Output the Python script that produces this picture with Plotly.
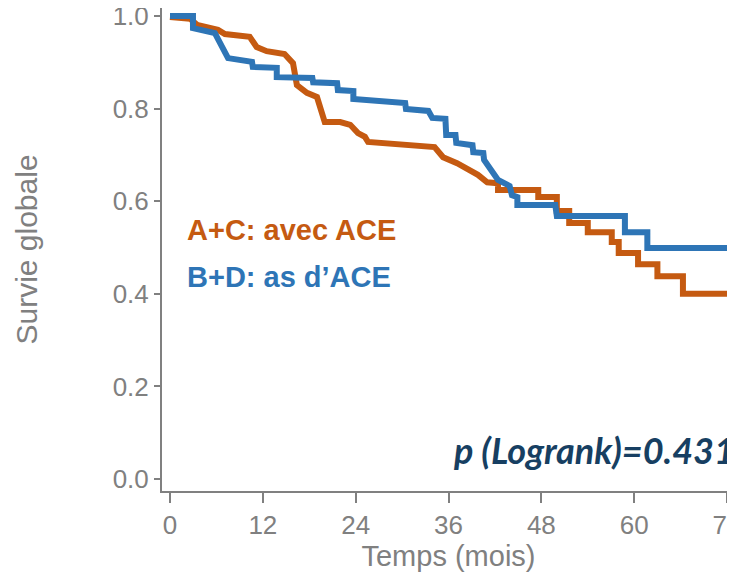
import plotly.graph_objects as go

# Kaplan-Meier curves (months, survival)
ac_months = [0, 2.6, 3.5, 6.2, 7.1, 10.3, 11.2, 12.5, 14.8, 15.9, 16.4, 17.7, 19.0, 20.0, 22.0,
             23.3, 24.3, 25.2, 25.6, 34.2, 35.3, 37.1, 39.8, 41.0, 42.4, 42.4, 47.6, 47.6,
             50.0, 50.0, 51.6, 51.6, 54.0, 54.0, 57.1, 57.1, 58.0, 58.0, 60.5, 60.5, 63.0, 63.0,
             66.3, 66.3, 72.0]
ac_surv = [0.998, 0.994, 0.981, 0.970, 0.961, 0.955, 0.933, 0.924, 0.918, 0.898, 0.851, 0.834,
           0.825, 0.771, 0.771, 0.765, 0.747, 0.739, 0.728, 0.717, 0.695, 0.682, 0.657, 0.641,
           0.639, 0.624, 0.624, 0.609, 0.609, 0.579, 0.579, 0.553, 0.553, 0.533, 0.533, 0.512,
           0.512, 0.488, 0.488, 0.464, 0.464, 0.438, 0.438, 0.400, 0.400]

bd_months = [0, 2.97, 2.97, 5.8, 7.5, 10.6, 10.7, 13.8, 13.8, 18.4, 18.5, 21.6, 21.7, 23.7, 23.7,
             30.4, 30.5, 33.4, 33.9, 35.6, 35.7, 36.9, 37.0, 39.1, 39.2, 40.5, 40.6, 41.6, 42.4,
             43.9, 44.2, 44.9, 44.9, 49.8, 50.0, 58.8, 58.8, 61.7, 61.7, 72.4]
bd_surv = [1.0, 1.0, 0.974, 0.963, 0.909, 0.901, 0.890, 0.888, 0.868, 0.866, 0.857, 0.855, 0.840,
           0.838, 0.821, 0.812, 0.799, 0.795, 0.780, 0.778, 0.743, 0.743, 0.726, 0.721, 0.706,
           0.704, 0.689, 0.667, 0.646, 0.633, 0.613, 0.609, 0.592, 0.592, 0.568, 0.568, 0.533,
           0.533, 0.499, 0.499]

x_ticks = [0, 12, 24, 36, 48, 60, 72]
y_ticks = [0.0, 0.2, 0.4, 0.6, 0.8, 1.0]
y_tick_labels = ["0.0", "0.2", "0.4", "0.6", "0.8", "1.0"]

ORANGE = "#C55A11"
BLUE = "#2E75B6"
GRAY = "#808080"

fig = go.Figure()
fig.add_trace(go.Scatter(x=ac_months, y=ac_surv, mode="lines", name="A+C: avec ACE",
                         line=dict(color=ORANGE, width=6), showlegend=False))
fig.add_trace(go.Scatter(x=bd_months, y=bd_surv, mode="lines", name="B+D: as d\u2019ACE",
                         line=dict(color=BLUE, width=6), showlegend=False))

fig.add_annotation(x=1.9, y=0.538, xref="x", yref="y", xanchor="left", yanchor="middle",
                   text="<b>A+C: avec ACE</b>", showarrow=False,
                   font=dict(family="Arial, Liberation Sans", size=29, color=ORANGE))
fig.add_annotation(x=1.9, y=0.436, xref="x", yref="y", xanchor="left", yanchor="middle",
                   text="<b>B+D: as d\u2019ACE</b>", showarrow=False,
                   font=dict(family="Arial, Liberation Sans", size=29, color=BLUE))
fig.add_annotation(x=1.0, y=0.063, xref="paper", yref="y", xanchor="right", yanchor="middle",
                   xshift=2, text="<b><i>p (Logrank)=0.431</i></b>", showarrow=False,
                   font=dict(family="Lato", size=36, color="#173F62"))

# the page body adds an 8px margin, so the figure is sized and offset to compensate
fig.update_layout(
    width=727, height=568,
    margin=dict(l=154, r=0, t=0, b=85),
    plot_bgcolor="white", paper_bgcolor="white",
    font=dict(family="Arial, Liberation Sans", color=GRAY),
)
fig.update_xaxes(range=[-1.034, 73.03], tickvals=x_ticks, ticktext=[str(v) for v in x_ticks],
                 showgrid=False, zeroline=False, showline=True, linecolor=GRAY, linewidth=2,
                 ticks="outside", ticklen=10, tickwidth=2, tickcolor=GRAY, automargin=False,
                 ticklabeloverflow="allow",
                 tickfont=dict(size=26, color=GRAY),
                 title=dict(text="Temps (mois)", font=dict(size=29, color=GRAY), standoff=4))
fig.update_yaxes(range=[-0.0259, 1.0173], tickvals=y_ticks, ticktext=y_tick_labels,
                 showgrid=False, zeroline=False, showline=True, linecolor=GRAY, linewidth=2,
                 ticks="outside", ticklen=6, tickwidth=2, tickcolor=GRAY, automargin=False,
                 ticklabeloverflow="allow",
                 tickfont=dict(size=26, color=GRAY),
                 title=dict(text="Survie globale", font=dict(size=30, color=GRAY), standoff=66))

fig.write_html("out.html")
